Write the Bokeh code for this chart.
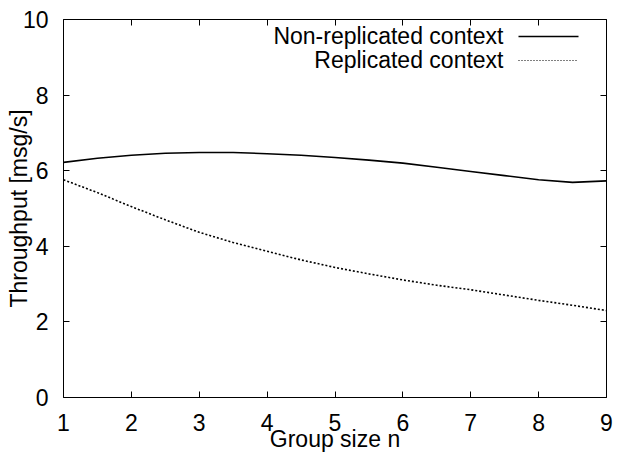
from bokeh.plotting import figure
from bokeh.models import Range1d, LinearAxis, FixedTicker, Label, Title
from bokeh.embed import file_html
from bokeh.resources import INLINE

# ---- data ----
group_size = [1, 1.5, 2, 2.5, 3, 3.5, 4, 4.5, 5, 5.5, 6, 6.5, 7, 7.5, 8, 8.5, 9]
non_replicated = [6.22, 6.33, 6.41, 6.46, 6.48, 6.48, 6.45, 6.41, 6.35, 6.28,
                  6.20, 6.09, 5.98, 5.87, 5.76, 5.69, 5.73]
replicated = [5.76, 5.42, 5.05, 4.70, 4.37, 4.10, 3.87, 3.64, 3.44, 3.27,
              3.11, 2.97, 2.85, 2.71, 2.57, 2.44, 2.30]
x_ticks = [1, 2, 3, 4, 5, 6, 7, 8, 9]
y_ticks = [0, 2, 4, 6, 8, 10]
series_labels = ["Non-replicated context", "Replicated context"]
x_title = "Group size n"
y_title = "Throughput [msg/s]"

FONT = "Liberation Sans"
FS = "23px"

W, H = 617, 455
L, R, T, B = 63, 11, 19, 58
FW, FH = W - L - R, H - T - B

p = figure(width=W, height=H, output_backend="svg", toolbar_location=None,
           x_range=Range1d(1, 9), y_range=Range1d(0, 10),
           min_border_left=L, min_border_right=R, min_border_top=T, min_border_bottom=B,
           x_axis_location=None, y_axis_location=None)
p.background_fill_color = "white"
p.border_fill_color = "white"
p.outline_line_color = "black"
p.outline_line_width = 1
p.xgrid.visible = False
p.ygrid.visible = False


def style_axis(ax, ticks, show_labels, standoff):
    ax.ticker = FixedTicker(ticks=ticks)
    ax.axis_line_color = None
    ax.major_tick_in = 6
    ax.major_tick_out = 0
    ax.major_tick_line_color = "black"
    ax.minor_tick_line_color = None
    ax.major_label_standoff = standoff
    ax.major_label_text_font = FONT
    ax.major_label_text_color = "black"
    ax.axis_label_text_font = FONT
    ax.axis_label_text_font_size = FS
    ax.axis_label_text_font_style = "normal"
    ax.axis_label_text_color = "black"
    if show_labels:
        ax.major_label_text_font_size = FS
    else:
        ax.major_label_text_font_size = "1px"
        ax.major_label_overrides = {t: "" for t in ticks}
        ax.major_label_standoff = 0


ax_b = LinearAxis()
p.add_layout(ax_b, "below")
style_axis(ax_b, x_ticks, True, 16)

ax_l = LinearAxis(axis_label=y_title)
p.add_layout(ax_l, "left")
style_axis(ax_l, y_ticks, True, 15)
ax_l.axis_label_standoff = -12

ax_r = LinearAxis()
p.add_layout(ax_r, "right")
style_axis(ax_r, y_ticks, False, 0)
ax_t = LinearAxis()
p.add_layout(ax_t, "above")
style_axis(ax_t, x_ticks, False, 0)

# x axis title as a title in the bottom side panel
p.add_layout(Title(text=x_title, align="center", vertical_align="bottom",
                   standoff=-20, offset=0, text_font=FONT, text_font_size=FS,
                   text_font_style="normal", text_color="black"), "below")

# ---- series ----
p.line(group_size, non_replicated, line_color="black", line_width=1.6)
p.line(group_size, replicated, line_color="black", line_width=1.6, line_dash="2 2")

# ---- legend (gnuplot style: right aligned text, sample on the right) ----
p.extra_x_ranges = {"px": Range1d(0, FW)}
p.extra_y_ranges = {"py": Range1d(0, FH)}
rows_y = [FH - 16, FH - 40]
text_right = 440
sample_x = [455, 515]
for i, lab in enumerate(series_labels):
    p.add_layout(Label(x=text_right, y=rows_y[i], x_units="screen", y_units="screen",
                       text=lab, text_align="right", text_baseline="middle",
                       text_font=FONT, text_font_size=FS, text_color="black"))
p.line(sample_x, [rows_y[0] - 1] * 2, x_range_name="px", y_range_name="py",
       line_color="black", line_width=1.6)
p.line(sample_x, [rows_y[1] - 1] * 2, x_range_name="px", y_range_name="py",
       line_color="black", line_width=1.2, line_dash="1 2")

open("out.html", "w").write(file_html(p, INLINE))
